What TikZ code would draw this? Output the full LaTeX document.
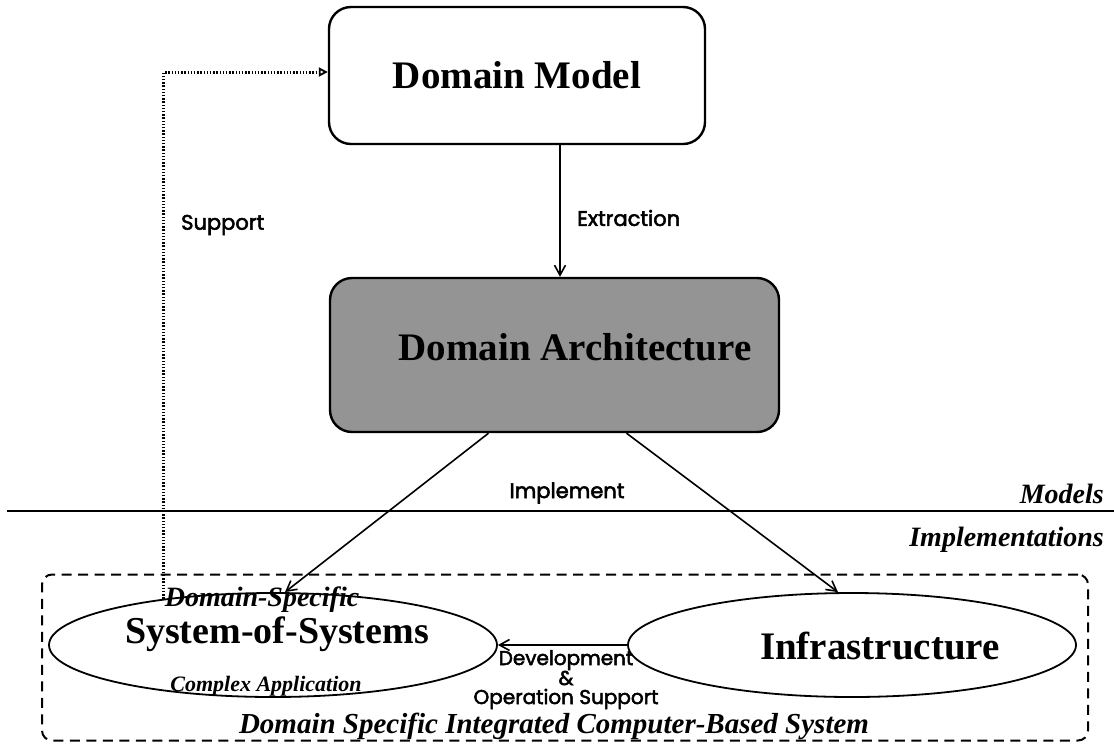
\documentclass[tikz,border=0pt]{standalone}
\usepackage{fontspec}
\setmainfont{Liberation Serif}
\newfontfamily\agfont{Poppins}[BoldFont=*, BoldFeatures={FakeBold=2.5}]
\usetikzlibrary{arrows.meta,shapes.geometric}
\begin{document}
\begin{tikzpicture}[x=1pt,y=-1pt,
  box/.style={draw, line width=2.4pt, rounded corners=22pt, minimum width=376pt, minimum height=137pt, inner sep=0pt},
  oval/.style={draw, ellipse, line width=1.8pt, minimum width=448pt, minimum height=104pt, inner sep=0pt},
  big/.style={font=\fontsize{39}{39}\selectfont\bfseries, inner sep=0pt},
  lab/.style={font=\agfont\bfseries\fontsize{21}{21}\selectfont, inner sep=0pt},
  small/.style={font=\agfont\bfseries\fontsize{20}{20}\selectfont, inner sep=0pt, text height=14pt, text depth=4pt},
  itl/.style={font=\fontsize{28}{28}\selectfont\bfseries\itshape, inner sep=0pt},
  arr/.style={line width=1.6pt, -{Straight Barb[length=10pt,width=11pt,line width=1.6pt]}},
  sup/.style={line width=3pt, dash pattern=on 1.4pt off 1.8pt, -{Triangle[open,length=9pt,width=9pt,line width=1.8pt]}},
]
\useasboundingbox (0,0) rectangle (1114,748);
% boxes
\node[box] (dm) at (517,75.5) {};
\node[big] (dmt) at (517,75) {Domain Model};
\node[box, fill=black!42, minimum width=449pt, minimum height=154pt] (da) at (554.5,355) {};
\node[big] (dat) at (575,347) {Domain Architecture};
% extraction
\coordinate (ex) at (560,0);
\draw[arr] (dm.south -| ex) -- (da.north -| ex);
\node[lab, anchor=west] (ext) at (577,218) {Extraction};
% divider
\coordinate (dl) at (7,511);
\coordinate (dr) at (1114,511);
\draw[line width=2pt] (dl) -- (dr);
\node[itl, anchor=base east] (mod) at (1104,503) {Models};
\node[itl, anchor=base east] (imp) at (1104,546) {Implementations};
\node[lab] (impl) at (567,493) {Implement};
% dashed container
\node[draw, line width=2pt, dash pattern=on 10pt off 6.5pt, rounded corners=10pt, minimum width=1046pt, minimum height=166pt, inner sep=0pt] (dscbs) at (565,657.5) {};
\node[itl, font=\fontsize{29}{29}\selectfont\bfseries\itshape, text height=20pt, text depth=6pt] (dsct) at (554,726) {Domain Specific Integrated Computer-Based System};
% ellipses
\node[oval] (sos) at (273,645) {};
\node[itl] (sost1) at (262,600) {Domain-Specific};
\node[big, font=\fontsize{38}{38}\selectfont\bfseries] (sost2) at (277,634) {System-of-Systems};
\node[itl, font=\fontsize{22}{22}\selectfont\bfseries\itshape] (sost3) at (266,686) {Complex Application};
\node[oval] (inf) at (852,645) {};
\node[big] (inft) at (880,646) {Infrastructure};
% implement arrows
\draw[arr] ([xshift=-66pt]da.south) -- ([xshift=12pt]sos.north);
\draw[arr] ([xshift=72pt]da.south) -- ([xshift=-14pt]inf.north);
% development
\draw[arr] (inf.west) -- (sos.east);
\node[small] (dev1) at (566,660) {Development};
\node[small] (dev2) at (566,680) {\&};
\node[small] (dev3) at (566,699) {Operation Support};
% support
\draw[sup] (sos.157) |- ([yshift=3.5pt]dm.west);
\node[lab, anchor=west] (supt) at (181,225) {Support};
\end{tikzpicture}
\end{document}
